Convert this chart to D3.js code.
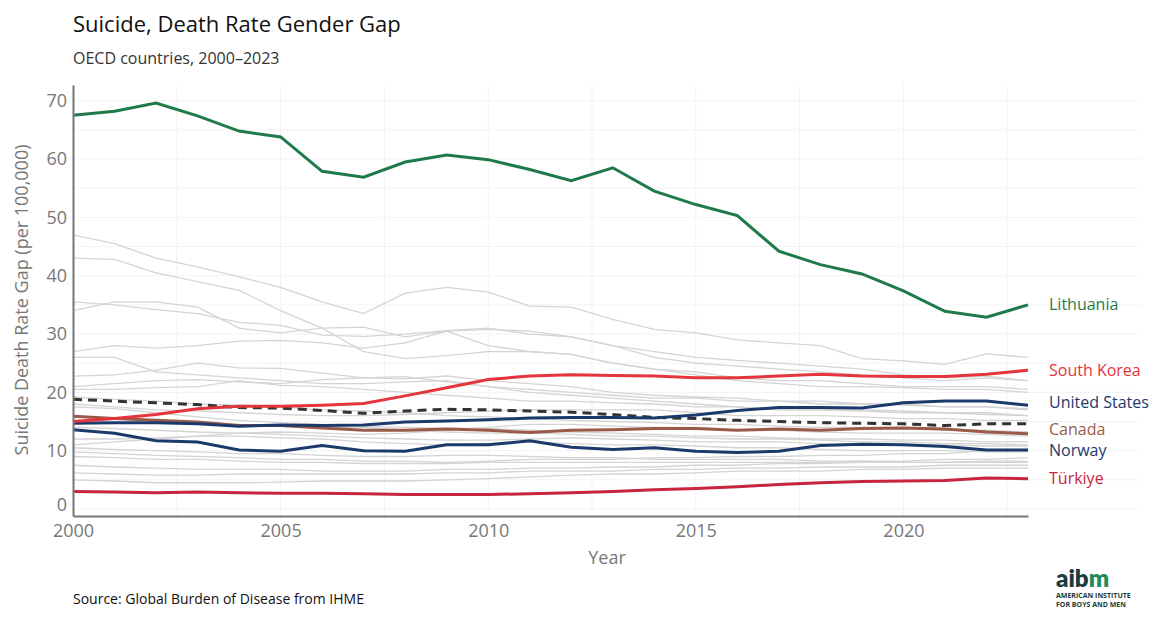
<!DOCTYPE html>
<html><head><meta charset="utf-8">
<script src="https://cdn.jsdelivr.net/npm/d3@7"></script>
<style>body{margin:0;background:#fff;font-family:"Open Sans",sans-serif}</style>
</head><body>
<svg id="chart" width="1171" height="623"></svg>
<script>
const years = d3.range(2000, 2024);
const lithuania = [67.5,68.2,69.6,67.4,64.8,63.8,57.9,56.9,59.5,60.7,59.9,58.2,56.3,58.5,54.5,52.2,50.3,44.2,41.9,40.3,37.4,33.9,32.9,35.0];
const southKorea = [15,15.5,16.2,17.2,17.6,17.6,17.8,18.1,19.4,20.8,22.2,22.8,23,22.9,22.8,22.5,22.5,22.8,23.1,22.8,22.7,22.7,23.1,23.8];
const unitedStates = [14.7,14.8,14.8,14.6,14.2,14.4,14.3,14.4,14.9,15.1,15.3,15.6,15.7,15.7,15.6,16.1,16.9,17.4,17.4,17.3,18.2,18.5,18.5,17.8];
const canada = [15.9,15.5,15.2,14.9,14.3,14.3,13.9,13.5,13.5,13.7,13.5,13.1,13.5,13.6,13.8,13.8,13.5,13.7,13.5,13.8,13.9,13.7,13.2,12.9];
const norway = [13.6,13,11.7,11.5,10.1,9.9,10.9,10,9.9,11,11,11.7,10.6,10.2,10.5,9.9,9.7,9.9,10.9,11.1,11.0,10.7,10.1,10.1];
const turkiye = [3,2.9,2.8,2.9,2.8,2.7,2.7,2.6,2.5,2.5,2.5,2.6,2.8,3.0,3.3,3.5,3.8,4.2,4.5,4.7,4.8,4.9,5.3,5.2];
const oecdAverage = [18.8,18.5,18.2,17.9,17.4,17.3,16.9,16.4,16.8,17.1,17.0,16.8,16.6,16.2,15.7,15.5,15.2,15.0,14.8,14.7,14.6,14.3,14.6,14.6];

// other OECD countries, drawn in grey
const others = [
  [47,45.5,43,41.5,39.8,38,35.5,33.5,37,38,37.2,34.8,34.6,32.5,30.8,30.2,29,28.5,28,25.8,25.4,24.8,26.6,26],
  [43,42.8,40.5,39,37.5,34,31,27,25.8,26.3,27,27,26.5,25,24,23.5,22.5,22,22,21.5,21,21,21,20.5],
  [35.5,35,34.2,33.5,32,31.5,29.8,29.6,30,30.6,31,30,29.5,28,26,25,24.5,24,23.5,23,22.5,22,22.5,22],
  [34,35.5,35.5,34.6,31,30.2,31,31.2,29.5,30.5,28,27,26.5,25,24,23,22,21.5,21,21,20.8,20.5,20.5,20],
  [27,28,27.6,28,28.8,28.9,28.5,27.6,28.5,30.5,30.8,30.5,29.5,28,27,26,25.5,25,24.5,24,23,22.5,22.8,22],
  [26,26,23.5,23,22.5,22,21.5,21.5,21.8,22,21,20,19.5,19,18.5,18,17.5,17,17,17,16.8,16.5,16.5,16],
  [22.8,23,23.8,25,24.2,24.1,23.3,22.5,22.3,22.8,22,21.5,21,20,19.5,19.2,19,18.5,18.5,18,18,17.5,17.5,17.2],
  [21,21.5,22,22.2,21.8,21.5,22.2,22.5,22.7,21.8,21,20.5,20,19.5,19,19,18.5,18.5,18,18,17.8,17.5,17.5,17],
  [20.5,20.5,20.8,21,22,21.2,21,20.5,20,19.5,19,18.5,18.5,18.2,18,17.5,17.5,17,17,16.8,16.5,16.5,16.2,16],
  [19.2,18.8,18.5,18,17.8,17.5,17,16.8,16.5,16,15.8,15.5,15.2,15,14.8,14.5,14.5,14.2,14,14,13.8,13.5,13.5,13.2],
  [17.5,17.2,16.5,15.8,15.2,14.8,14.5,14.2,14,13.8,13.8,13.5,13.2,13,12.8,12.5,12.5,12.2,12,12,11.8,11.8,11.5,11.5],
  [16,15.5,15,14.5,14.5,14.2,14,14,13.5,13.2,13,13,12.8,12.5,12.5,12.2,12,12,11.8,11.5,11.5,11.2,11.2,11],
  [14,13.8,13.5,13.2,13,12.8,12.5,12.2,12,11.8,11.8,12,12.2,12,11.8,11.5,11.5,11.5,11.2,11,11,11,10.8,10.8],
  [12,12,12.2,12.5,12.5,12.2,12,11.5,11.2,11,11.2,11.5,11.2,11,11,10.8,10.5,10.5,10.2,10,10,10,9.8,9.8],
  [10.5,10.2,10,9.8,9.5,9.5,9.2,9,9,9.2,9.2,9,8.8,8.8,8.5,8.5,8.5,8.5,8.2,8.2,8,8,8,8],
  [9.8,9.5,9.2,9,8.8,8.5,8.5,8.2,8.2,8,8.2,8.5,8.5,8.5,8.8,8.8,9,9,9.2,9.2,9.5,9.5,10,10.2],
  [9,8.8,8.5,8.5,8.2,8,8,7.8,7.8,7.8,8,8,8,8,8,8,8,8,8,8.2,8.2,8.5,8.5,8.8],
  [7.5,7.2,7,6.8,6.8,6.8,6.5,6.5,6.5,6.8,6.8,7,7,7.2,7.2,7.5,7.5,7.8,7.8,8,8,8,8.2,8.2],
  [6.2,6,5.8,5.8,6,6,6,6,6,6.2,6.2,6.5,6.5,6.5,6.8,6.8,7,7,7.2,7.2,7.2,7.5,7.5,7.5],
  [5,4.8,4.5,4.5,4.5,4.6,4.8,4.8,4.8,5,5.2,5.5,5.8,6,6,6.2,6.5,6.5,6.5,6.8,6.8,7,7,7],
  [11,11.5,12,12.5,13,13.2,13,12.8,13,13.5,14,14.5,14.5,14.2,14,14,13.5,13.5,13.2,13,13,13,12.8,12.5],
  [18,17.5,17,16.8,16.5,16.2,16,16,16.2,16.5,16.8,17,17,17,17,16.5,16,16,16,15.8,15.5,15.5,15.2,15.2]
];

const highlighted = [
  {name: "Lithuania", values: lithuania, color: "#1f7a4a", labelY: 35},
  {name: "South Korea", values: southKorea, color: "#e4343c", labelY: 23.8},
  {name: "United States", values: unitedStates, color: "#1b3a6b", labelY: 18.2},
  {name: "Canada", values: canada, color: "#9a5a4a", labelY: 13.6},
  {name: "Norway", values: norway, color: "#1b3a6b", labelY: 10.0},
  {name: "Türkiye", values: turkiye, color: "#c8243f", labelY: 5.2}
];
const xTicks = [2000, 2005, 2010, 2015, 2020];
const yTicks = [0, 10, 20, 30, 40, 50, 60, 70];

const svg = d3.select("#chart");
const x = d3.scaleLinear().domain([2000, 2023]).range([73, 1028]);
const y = d3.scaleLinear().domain([-1.2, 72.7]).range([516, 85]);

// faint grid
svg.append("g").selectAll("line").data(d3.range(2000, 2025, 2.5)).join("line")
  .attr("x1", d => x(d)).attr("x2", d => x(d)).attr("y1", 85).attr("y2", 516)
  .attr("stroke", "#f3f3f3");
svg.append("g").selectAll("line").data(d3.range(0, 75, 5)).join("line")
  .attr("x1", 73).attr("x2", 1140).attr("y1", d => y(d)).attr("y2", d => y(d))
  .attr("stroke", "#f3f3f3");

const line = d3.line().x((d, i) => x(years[i])).y(d => y(d));

svg.append("g").selectAll("path").data(others).join("path")
  .attr("d", line).attr("fill", "none").attr("stroke", "#d4d4d4").attr("stroke-width", 1.3);

svg.append("path").attr("d", line(oecdAverage)).attr("fill", "none")
  .attr("stroke", "#333").attr("stroke-width", 3).attr("stroke-dasharray", "9,6");

[...highlighted].reverse().forEach(s => {
  svg.append("path").attr("d", line(s.values)).attr("fill", "none")
    .attr("stroke", s.color).attr("stroke-width", 3);
});
svg.append("g").selectAll("text").data(highlighted).join("text")
  .attr("x", 1049).attr("y", d => y(d.labelY)).attr("dy", "0.35em")
  .attr("fill", d => d.color).attr("font-size", 16).text(d => d.name);

// axes
const xAxis = svg.append("g").attr("transform", "translate(0,516)")
  .call(d3.axisBottom(x).tickValues(xTicks).tickFormat(d3.format("d")).tickSize(0).tickPadding(8));
const yAxis = svg.append("g").attr("transform", "translate(73,0)")
  .call(d3.axisLeft(y).tickValues(yTicks).tickSize(0).tickPadding(6));
[xAxis, yAxis].forEach(a => {
  a.select(".domain").attr("stroke", "#777").attr("stroke-width", 2);
  a.selectAll("text").attr("fill", "#777").attr("font-size", 18).attr("font-family", "Open Sans");
});
yAxis.selectAll("text").filter(d => d === 0).attr("dy", "0.1em");

svg.append("text").attr("x", 607).attr("y", 564).attr("text-anchor", "middle")
  .attr("fill", "#777").attr("font-size", 18).text("Year");
svg.append("text").attr("transform", "translate(28,300) rotate(-90)").attr("text-anchor", "middle")
  .attr("fill", "#777").attr("font-size", 18).text("Suicide Death Rate Gap (per 100,000)");

svg.append("text").attr("x", 73).attr("y", 32).attr("font-size", 22).attr("fill", "#111")
  .text("Suicide, Death Rate Gender Gap");
svg.append("text").attr("x", 73).attr("y", 64).attr("font-size", 16).attr("fill", "#333")
  .text("OECD countries, 2000–2023");
svg.append("text").attr("x", 73).attr("y", 604).attr("font-size", 14).attr("fill", "#111")
  .text("Source: Global Burden of Disease from IHME");

// logo
const logo = svg.append("g").attr("transform", "translate(1056,0)");
logo.append("text").attr("x", 0).attr("y", 587).attr("font-size", 24).attr("font-weight", 800)
  .attr("font-family", "Lato").html('<tspan fill="#1c3b3a">aib</tspan><tspan fill="#1f8a5a">m</tspan>');
logo.append("text").attr("x", 0).attr("y", 598).attr("font-size", 7).attr("font-weight", 700)
  .attr("fill", "#1c3b3a").text("AMERICAN INSTITUTE");
logo.append("text").attr("x", 0).attr("y", 607).attr("font-size", 7).attr("font-weight", 700)
  .attr("fill", "#1c3b3a").text("FOR BOYS AND MEN");
</script>
</body></html>
